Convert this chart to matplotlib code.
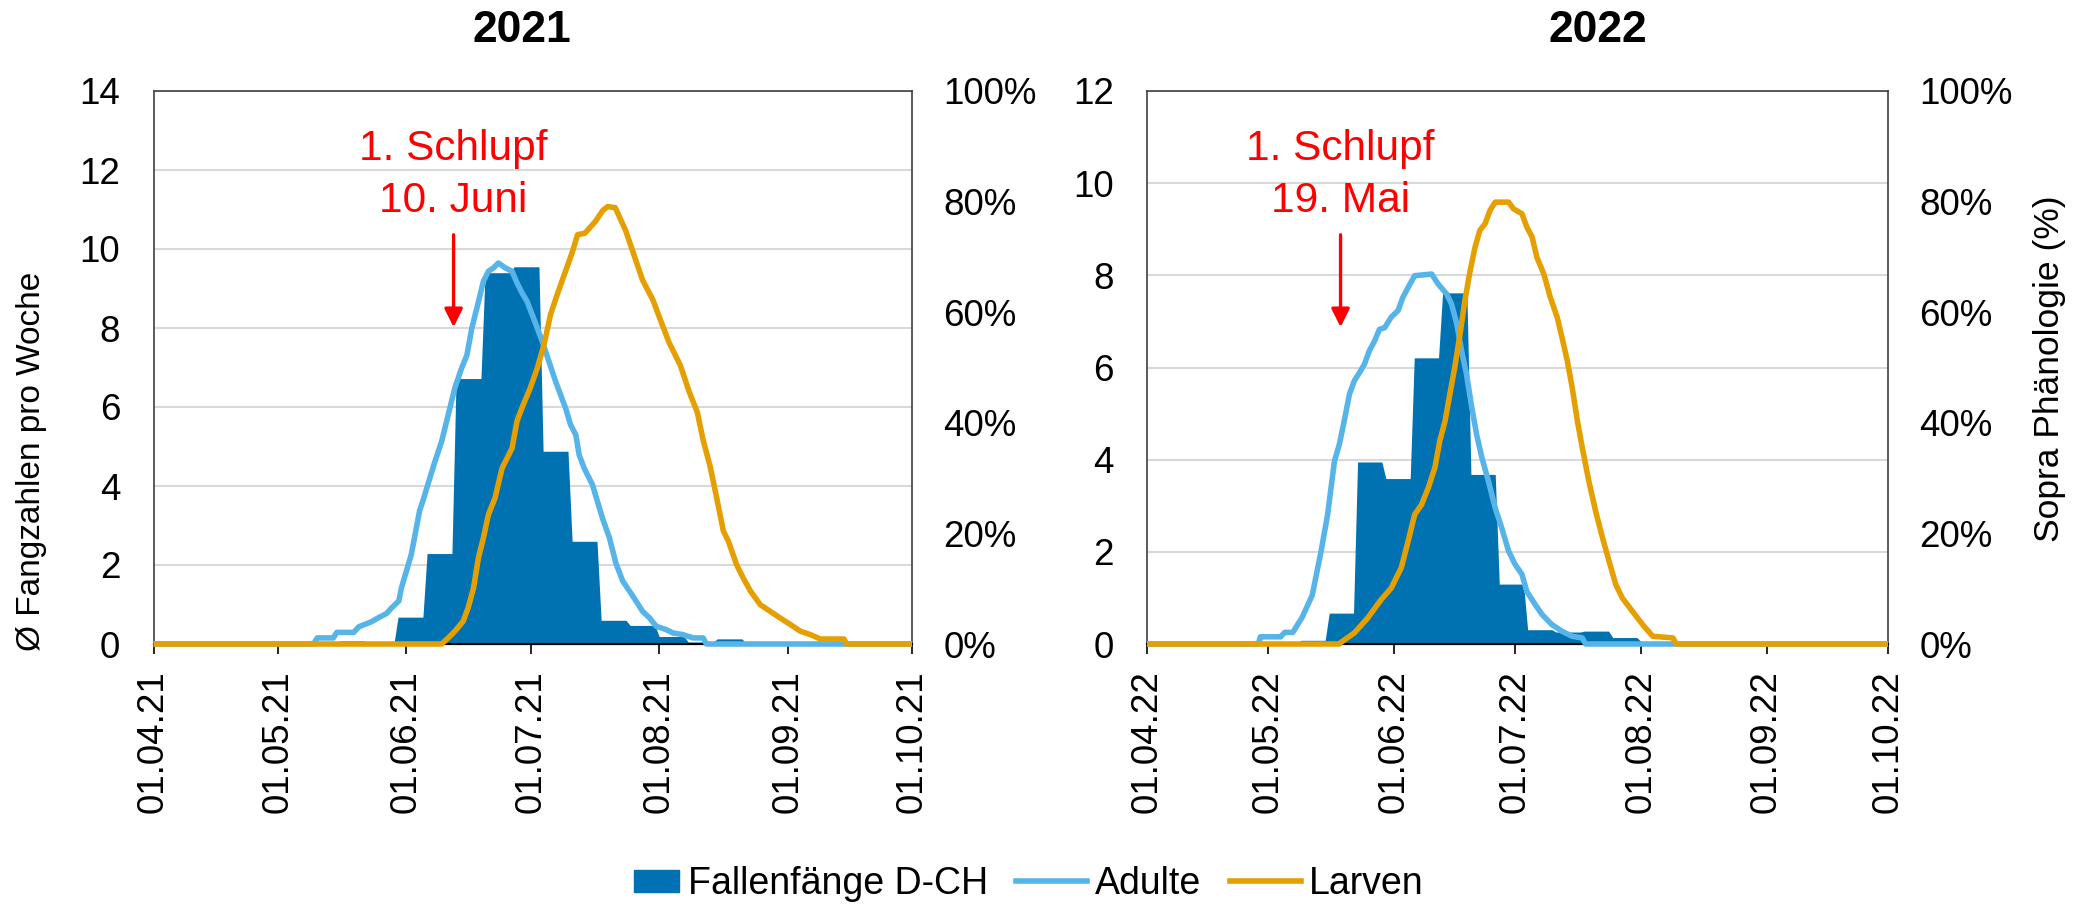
import numpy as np
import matplotlib
matplotlib.use('Agg')
import matplotlib.pyplot as plt
import matplotlib.dates as mdates
from matplotlib.patches import Patch, Rectangle
from matplotlib.lines import Line2D
from matplotlib.legend_handler import HandlerPatch

plt.rcParams['font.family'] = ['Liberation Sans', 'DejaVu Sans']

# alle Tage gezählt ab dem 1. April des jeweiligen Jahres
woche_tag = [17, 24, 31, 38, 45, 52, 59, 66, 73, 80, 87, 94, 101, 108, 115, 122, 129, 136, 143]
fang21 = [0, 0.03, 0, 0, 0.08, 0, 0.68, 2.29, 6.72, 9.40, 9.55, 4.88, 2.60, 0.60, 0.47, 0.19, 0.05, 0.13, 0]
fang22 = [0.04, 0, 0, 0.08, 0.67, 3.95, 3.59, 6.21, 7.62, 3.68, 1.30, 0.31, 0.26, 0.28, 0.14, 0.05, 0, 0, 0]

adult21_tag = [0, 38.6, 39.5, 43.4, 44.2, 48.3, 49.5, 52.5, 54.4, 56.2, 57.4, 59.2, 59.8, 62.2, 64.2,
               65.0, 67.9, 69.5, 70.3, 72.7, 74.3, 75.6, 76.8, 78.4, 79.6, 80.8, 82.0, 83.2, 84.9,
               86.5, 87.7, 88.9, 90.1, 91.7, 93.8, 95.4, 97.0, 99.4, 100.6, 101.9, 102.7, 103.9,
               105.9, 107.1, 108.3, 110.0, 111.6, 113.2, 114.8, 116.4, 118.0, 119.7, 121.3, 123.7,
               125.3, 127.7, 130.2, 132.6, 133.4, 183]
adult21_pct = [0, 0, 1.1, 1.1, 2.1, 2.1, 3.1, 4.0, 4.8, 5.5, 6.5, 7.8, 10.1, 16.2, 24.1,
               25.9, 33.0, 36.6, 39.0, 46.3, 49.8, 52.2, 57.1, 61.9, 65.6, 67.4, 68.0, 68.9, 68.0,
               67.4, 65.3, 63.5, 62.0, 58.9, 54.7, 51.1, 47.5, 42.7, 39.7, 37.8, 34.2, 31.8,
               28.8, 25.8, 22.8, 19.2, 14.5, 11.4, 9.6, 7.8, 5.9, 4.7, 3.2, 2.6,
               2.0, 1.7, 1.1, 1.1, 0, 0]

larv21_tag = [0, 69.5, 71.1, 72.7, 74.7, 75.9, 77.2, 78.4, 79.6, 80.8, 82.4, 84.1, 86.5, 87.7,
              88.9, 90.9, 92.6, 94.2, 95.8, 97.4, 99.4, 101.1, 102.3, 104.1, 106.6, 108.4, 109.6,
              111.4, 113.9, 116.4, 118.0, 120.5, 122.1, 124.4, 127.1, 129.2, 131.2, 132.6, 134.3,
              135.8, 137.5, 138.7, 140.7, 142.3, 144.0, 146.4, 148.8, 151.2, 153.7, 156.1, 158.5,
              160.9, 166.6, 167.2, 183]
larv21_pct = [0, 0, 1.1, 2.3, 4.1, 6.5, 10.1, 15.6, 19.2, 23.4, 26.4, 31.8, 35.4, 40.3,
              42.7, 46.3, 49.9, 54.1, 59.6, 63.2, 67.4, 71.0, 74.0, 74.3, 76.4, 78.4, 79.1,
              78.9, 74.8, 69.3, 65.8, 62.2, 59.0, 54.5, 50.4, 45.7, 41.9, 36.9, 32.1,
              26.7, 20.4, 18.6, 14.3, 11.9, 9.6, 7.1, 5.9, 4.7, 3.5, 2.3, 1.7,
              0.9, 0.9, 0, 0]

adult22_tag = [0, 27.5, 28, 33, 34, 36, 38.3, 40.8, 43.0, 44.6, 46.3, 47.5, 48.7, 50.0, 51.2,
               52.5, 53.7, 54.9, 56.2, 57.4, 58.7, 60.3, 62.0, 63.2, 64.5, 66.1, 70.3, 71.9, 74.0,
               75.2, 76.5, 77.7, 78.9, 80.2, 81.4, 82.7, 84.3, 86.0, 87.6, 89.3, 90.9, 92.6, 93.8,
               95.9, 97.6, 100.0, 102.5, 105.0, 107.5, 108.3, 183]
adult22_pct = [0, 0, 1.3, 1.3, 2.1, 2.1, 4.8, 8.8, 16.8, 23.4, 33.1, 36.1, 40.3, 45.2, 47.6,
               49.1, 50.6, 53.0, 54.8, 56.9, 57.2, 59.1, 60.3, 62.7, 64.5, 66.6, 66.9, 65.1, 63.3,
               61.5, 57.9, 53.0, 48.8, 42.8, 37.9, 33.7, 29.5, 24.6, 21.0, 16.8, 14.4, 12.6, 9.5,
               7.1, 5.3, 3.5, 2.3, 1.4, 1.1, 0, 0]

larv22_tag = [0, 47.5, 47.9, 51.2, 54.5, 57.8, 60.3, 62.8, 64.5, 66.1, 67.8, 69.5, 71.1, 72.3,
              73.6, 74.8, 76.0, 77.3, 78.5, 79.8, 81.0, 82.2, 83.5, 84.7, 86.0, 89.3, 90.5, 92.6,
              93.8, 95.1, 96.3, 98.0, 99.6, 101.3, 102.5, 103.8, 105.0, 106.3, 107.5, 109.1,
              110.8, 112.5, 114.1, 115.8, 117.4, 119.9, 122.4, 124.9, 129.9, 130.7, 183]
larv22_pct = [0, 0, 0.3, 2.0, 4.7, 8.0, 10.1, 13.8, 18.6, 23.4, 25.2, 28.3, 31.9, 36.7,
              40.3, 45.2, 50.0, 56.0, 62.1, 67.5, 71.7, 74.8, 76.0, 78.4, 79.9, 79.9, 78.7, 77.8,
              75.4, 73.6, 69.9, 66.9, 62.7, 59.1, 55.4, 51.2, 46.4, 40.3, 35.5, 29.5,
              24.0, 19.2, 15.0, 10.7, 8.3, 5.9, 3.5, 1.4, 1.1, 0, 0]

schlupf21 = '1. Schlupf\n10. Juni'
schlupf22 = '1. Schlupf\n19. Mai'
pfeil21_tag = 72.4
pfeil22_tag = 47.8

BLAU = '#0072B2'
HELLBLAU = '#56B4E9'
ORANGE = '#E69F00'
ROT = '#FF0000'
W, H = 2095, 906
LW = 4.0
TICK = 26.5

fig = plt.figure(figsize=(W / 100, H / 100), dpi=100)


def panel(links, breite, jahr, fang, ymax, adult_tag, adult_pct, larv_tag, larv_pct,
          pfeil_tag, schlupf):
    start = mdates.date2num(np.datetime64(f'{jahr}-04-01'))
    ende = mdates.date2num(np.datetime64(f'{jahr}-10-01'))
    ax = fig.add_axes([links / W, (H - 644) / H, breite / W, 553 / H])

    # Wochenmittel der Fallen als Tageswerte
    tage = (np.asarray(woche_tag)[:, None] + np.arange(7)).ravel()
    ax.fill_between(start + tage, 0, np.repeat(fang, 7), color=BLAU, lw=0, zorder=1)

    ax.set_xlim(start, ende)
    ax.set_ylim(0, ymax)
    ax.set_yticks(range(0, ymax + 1, 2))
    ax.grid(axis='y', color='#D9D9D9', lw=1.5)
    ax.set_axisbelow(True)
    ax.xaxis.set_major_locator(mdates.MonthLocator())
    ax.xaxis.set_major_formatter(mdates.DateFormatter('%d.%m.%y'))
    ax.tick_params(axis='x', direction='out', length=7, width=1.2, pad=12,
                   labelsize=TICK, labelrotation=90)
    ax.tick_params(axis='y', length=0, pad=24, labelsize=TICK)
    for s in ax.spines.values():
        s.set_color('#404040')
        s.set_linewidth(1.2)
    ax.spines['bottom'].set_color('black')
    ax.spines['bottom'].set_linewidth(1.6)

    ax2 = ax.twinx()
    ax2.set_ylim(0, 100)
    ax2.set_yticks(range(0, 101, 20))
    ax2.set_yticklabels([f'{v}%' for v in range(0, 101, 20)])
    ax2.tick_params(axis='y', length=0, pad=22.5, labelsize=TICK)
    for s in ax2.spines.values():
        s.set_visible(False)

    ax2.plot(start + np.asarray(adult_tag), adult_pct, color=HELLBLAU, lw=LW, zorder=3,
             clip_on=False, solid_capstyle='butt', solid_joinstyle='round')
    ax2.plot(start + np.asarray(larv_tag), larv_pct, color=ORANGE, lw=LW, zorder=4,
             clip_on=False, solid_capstyle='butt', solid_joinstyle='round')

    x = start + pfeil_tag
    ax2.text(x, 0.848, schlupf, transform=ax2.get_xaxis_transform(), ha='center',
             va='center', color=ROT, fontsize=30.5, linespacing=1.4)
    ax2.annotate('', xy=(x, 0.573), xytext=(x, 0.74), xycoords=('data', 'axes fraction'),
                 textcoords=('data', 'axes fraction'),
                 arrowprops=dict(arrowstyle='-|>,head_length=0.5,head_width=0.25',
                                 color=ROT, lw=2.4, shrinkA=0, shrinkB=0, mutation_scale=22))
    return ax, ax2


panel(153.5, 758.5, 2021, fang21, 14, adult21_tag, adult21_pct, larv21_tag, larv21_pct,
      pfeil21_tag, schlupf21)
panel(1147, 741, 2022, fang22, 12, adult22_tag, adult22_pct, larv22_tag, larv22_pct,
      pfeil22_tag, schlupf22)

fig.text(522 / W, 1 - 31 / H, '2021', ha='center', va='center', fontsize=32, fontweight='bold')
fig.text(1598 / W, 1 - 31 / H, '2022', ha='center', va='center', fontsize=32, fontweight='bold')
fig.text(31.5 / W, 1 - 461 / H, 'Ø Fangzahlen pro Woche', rotation=90, ha='center',
         va='center', fontsize=24)
fig.text(2049 / W, 1 - 369 / H, 'Sopra Phänologie (%)', rotation=90, ha='center',
         va='center', fontsize=25.5)


def quadrat(legend, orig_handle, xdescent, ydescent, width, height, fontsize):
    # kleineres Farbfeld, rechtsbündig vor dem Text
    b, h = 32.5, 15.5
    return Rectangle((width - xdescent - b, (height - h) / 2 - ydescent), b, h)


handles = [Patch(color=BLAU), Line2D([], [], color=HELLBLAU, lw=LW),
           Line2D([], [], color=ORANGE, lw=LW)]
fig.legend(handles, ['Fallenfänge D-CH', 'Adulte', 'Larven'], loc='center',
           bbox_to_anchor=(1016 / W, 1 - 884 / H), ncol=3, frameon=False, fontsize=27,
           handlelength=1.9, handletextpad=0.22, columnspacing=0.75, borderpad=0,
           handler_map={Patch: HandlerPatch(patch_func=quadrat)})

fig.savefig('out.png', dpi=100)
